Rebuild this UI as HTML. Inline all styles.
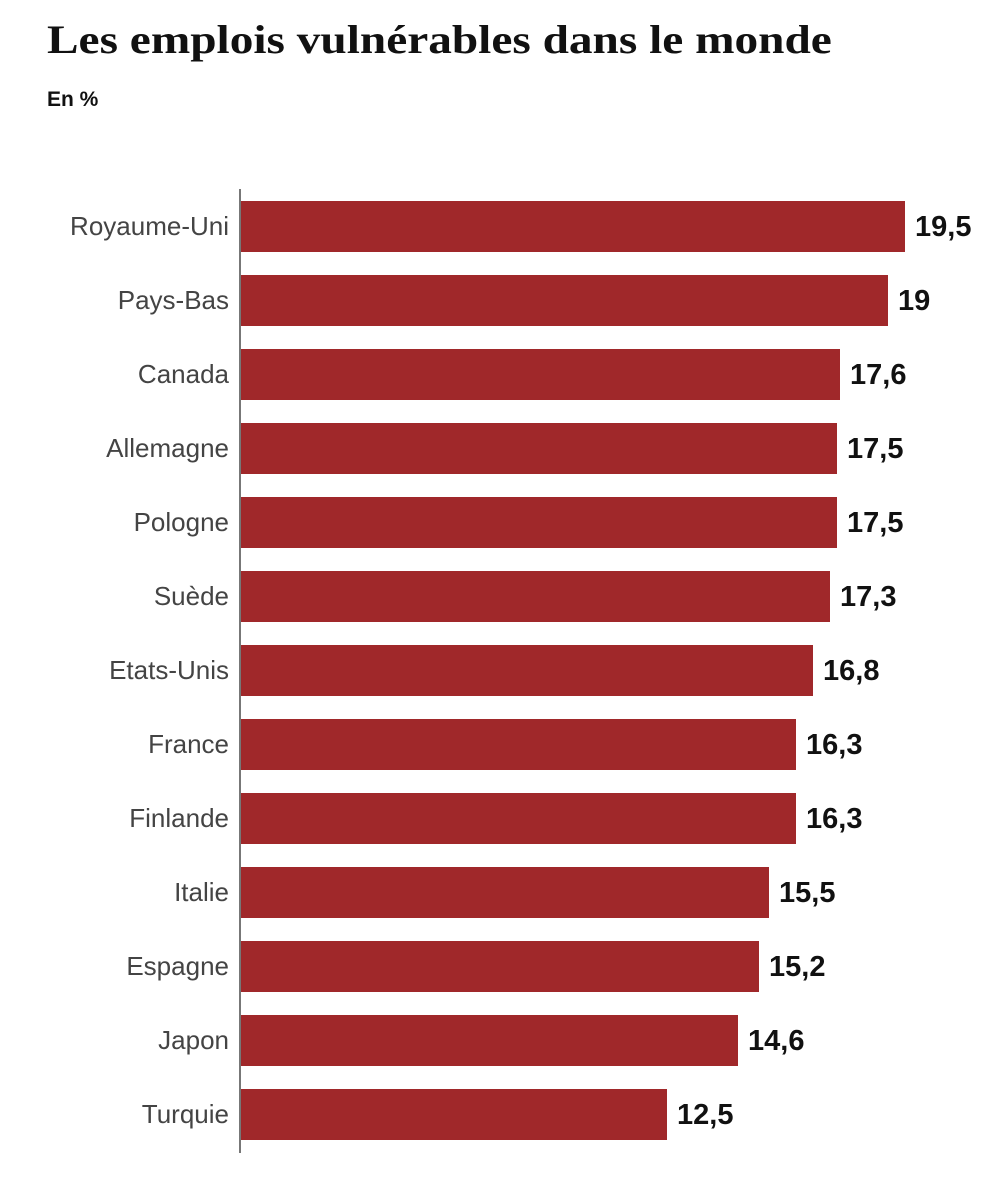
<!DOCTYPE html>
<html><head><meta charset="utf-8"><style>
body{margin:0;width:1004px;height:1190px;background:#fff;position:relative;overflow:hidden;font-family:"Liberation Sans",sans-serif}
.t{position:absolute;left:47px;top:16px;font-family:"Liberation Serif",serif;font-weight:bold;font-size:40px;color:#111;white-space:nowrap;transform-origin:0 0;transform:scaleX(1.183)}
.s{position:absolute;left:47px;top:88px;font-weight:bold;font-size:21px;color:#111}
.ax{position:absolute;left:239px;top:189px;width:2px;height:964px;background:#777}
.b{position:absolute;left:241px;height:51px;background:#a0282a}
.l{position:absolute;right:775px;font-size:26px;color:#444;white-space:nowrap;line-height:51px}
.v{position:absolute;font-size:29px;font-weight:bold;color:#111;line-height:51px}
</style></head><body>
<div class="t">Les emplois vulnérables dans le monde</div>
<div class="s">En %</div>
<div class="ax"></div>
<div id="c"></div>
<script>
var d=[["Royaume-Uni",19.5,"19,5"],["Pays-Bas",19,"19"],["Canada",17.6,"17,6"],["Allemagne",17.5,"17,5"],["Pologne",17.5,"17,5"],["Suède",17.3,"17,3"],["Etats-Unis",16.8,"16,8"],["France",16.3,"16,3"],["Finlande",16.3,"16,3"],["Italie",15.5,"15,5"],["Espagne",15.2,"15,2"],["Japon",14.6,"14,6"],["Turquie",12.5,"12,5"]];
var h="";
d.forEach(function(r,i){var y=201+i*74;var w=Math.round(r[1]*34);
h+='<div class="l" style="top:'+y+'px">'+r[0]+'</div>';
h+='<div class="b" style="top:'+y+'px;width:'+(w+1)+'px"></div>';
h+='<div class="v" style="top:'+(y+1)+'px;left:'+(241+w+11)+'px">'+r[2]+'</div>';});
document.getElementById("c").innerHTML=h;
</script>
</body></html>
